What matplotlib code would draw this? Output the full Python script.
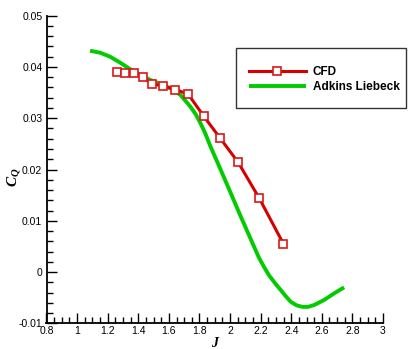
import matplotlib
matplotlib.use("Agg")
import matplotlib.pyplot as plt
from matplotlib.patches import Rectangle
from matplotlib.ticker import MultipleLocator, FuncFormatter

plt.rcParams["mathtext.fontset"] = "custom"
plt.rcParams["mathtext.it"] = "Liberation Serif:italic:bold"
plt.rcParams["mathtext.rm"] = "Liberation Serif:bold"

cfd_J = [1.260, 1.310, 1.369, 1.428, 1.490, 1.562, 1.643, 1.726, 1.828, 1.933, 2.053, 2.191, 2.349]
cfd_CQ = [0.0391, 0.0389, 0.0388, 0.0380, 0.0367, 0.0363, 0.0356, 0.0347, 0.0304, 0.0262, 0.0214, 0.0144, 0.0055]

al_J = [1.085, 1.151, 1.216, 1.282, 1.348, 1.413, 1.479, 1.544, 1.610, 1.676, 1.741, 1.775, 1.807,
        1.840, 1.872, 1.938, 2.003, 2.069, 2.134, 2.189, 2.222, 2.254, 2.292, 2.331, 2.365, 2.397,
        2.435, 2.473, 2.510, 2.550, 2.615, 2.681, 2.746]
al_CQ = [0.04317, 0.04278, 0.04200, 0.04083, 0.03955, 0.03843, 0.03746, 0.03668, 0.03584, 0.03453,
         0.03225, 0.03080, 0.02901, 0.02690, 0.02450, 0.02000, 0.01550, 0.01090, 0.00650, 0.00280,
         0.00100, -0.00060, -0.00210, -0.00350, -0.00475, -0.00580, -0.00650, -0.00680, -0.00680,
         -0.00643, -0.00545, -0.00415, -0.00298]

W, H = 409, 349
fig = plt.figure(figsize=(W/100, H/100), dpi=100)
ax = fig.add_axes([46.5/W, 1-323.3/H, 336.5/W, (323.3-15.7)/H])

ax.plot(al_J, al_CQ, color="#00cc00", lw=2.8, solid_capstyle="butt", solid_joinstyle="round",
        label="Adkins Liebeck", zorder=2)
ax.plot(cfd_J, cfd_CQ, color="#d40000", lw=2.2, marker="s", ms=5.8, mfc="white", mec="#d81818",
        mew=1.2, label="CFD", zorder=3)

ax.set_xlim(0.8, 3.0)
ax.set_ylim(-0.01, 0.05)
ax.xaxis.set_major_locator(MultipleLocator(0.2))
ax.xaxis.set_minor_locator(MultipleLocator(0.05))
ax.yaxis.set_major_locator(MultipleLocator(0.01))
ax.yaxis.set_minor_locator(MultipleLocator(0.002))
for s in ["top", "right"]:
    ax.spines[s].set_visible(False)
for s in ["left", "bottom"]:
    ax.spines[s].set_linewidth(1.3)
ax.tick_params(which="both", direction="in", labelsize=7.5, width=1.0)
ax.tick_params(which="major", length=7)
ax.tick_params(which="minor", length=4)
ax.tick_params(axis="x", pad=2)
ax.tick_params(axis="y", pad=3)
ax.xaxis.set_major_formatter(FuncFormatter(lambda v, p: f"{v:g}"))
ax.yaxis.set_major_formatter(FuncFormatter(lambda v, p: f"{v:g}" if abs(v) > 1e-9 else "0"))
for lab in ax.get_xticklabels() + ax.get_yticklabels():
    lab.set_fontfamily("Liberation Sans")

ax.set_xlabel("J", fontfamily="Liberation Serif", fontstyle="italic", fontweight="bold",
              fontsize=10, labelpad=1)
fig.text(14/W, 1-177/H, "$C_Q$", rotation=90, fontsize=11, ha="center", va="center")

# legend box
fig.patches.append(Rectangle((236/W, 1-108/H), 170/W, 60/H, transform=fig.transFigure,
                             fill=False, edgecolor="#333333", lw=1.0))
handles, labels = ax.get_legend_handles_labels()
leg = fig.legend(handles[::-1], labels[::-1], loc="upper left", bbox_to_anchor=(249/W, 1-66/H),
                 frameon=False, prop={"family": "Liberation Sans", "weight": "bold", "size": 8.5},
                 handlelength=4.8, labelspacing=0.27, handletextpad=0.6, borderpad=0.0,
                 borderaxespad=0.0)

fig.savefig("out.png", dpi=100)
